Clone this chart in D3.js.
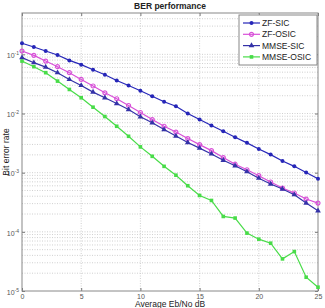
<!DOCTYPE html>
<html><head><meta charset="utf-8">
<script src="https://cdn.jsdelivr.net/npm/d3@7"></script>
<style>body{margin:0;background:#fff}svg{display:block}</style>
</head><body><svg id="c" width="325" height="308"></svg>
<script>
const snr = [0,1,2,3,4,5,6,7,8,9,10,11,12,13,14,15,16,17,18,19,20,21,22,23,24,25];
const zfSic = [0.154,0.133,0.114,0.0973,0.0791,0.0669,0.0550,0.0453,0.0362,0.0298,0.0243,0.0196,0.0158,0.0133,0.0100,0.00791,0.00626,0.00501,0.00397,0.00319,0.00252,0.00202,0.00158,0.00128,0.00101,0.00079];
const zfOsic = [0.1138,0.0962,0.0770,0.0619,0.0490,0.0377,0.0292,0.0224,0.01775,0.01367,0.0104,0.00791,0.00609,0.00486,0.00377,0.00298,0.00236,0.00180,0.00139,0.00112,0.00089,0.000696,0.000550,0.000453,0.000358,0.000306];
const mmseSic = [0.0879,0.0723,0.0609,0.0490,0.0377,0.0298,0.0230,0.01845,0.01477,0.01169,0.00879,0.00696,0.00536,0.00416,0.00323,0.00260,0.00207,0.00162,0.00131,0.00104,0.000807,0.000643,0.000529,0.000424,0.000306,0.000227];
const mmseOsic = [0.0770,0.0619,0.0490,0.0353,0.0255,0.01845,0.01279,0.0089,0.00609,0.00412,0.00273,0.00189,0.00128,0.000907,0.000602,0.000412,0.000339,0.000182,0.000171,0.0000951,0.0000752,0.0000643,0.0000349,0.0000464,0.0000171,0.0000116];
const seriesNames = ["ZF-SIC","ZF-OSIC","MMSE-SIC","MMSE-OSIC"];
const xTicks = [0,5,10,15,20,25];
const yTicks = [1e-5,1e-4,1e-3,1e-2,1e-1];
const titleText = "BER performance";
const xLabel = "Average Eb/No dB";
const yLabel = "Bit error rate";

const series = [
  {name: seriesNames[0], values: zfSic, color: "#2626b8", marker: "dot"},
  {name: seriesNames[1], values: zfOsic, color: "#d850d8", marker: "circle"},
  {name: seriesNames[2], values: mmseSic, color: "#3432a8", marker: "tri"},
  {name: seriesNames[3], values: mmseOsic, color: "#48dc48", marker: "square"}
];

const svg = d3.select("#c");
const L = 22, R = 318, T = 13, B = 291;
const x = d3.scaleLinear().domain([0,25]).range([L,R]);
const y = d3.scaleLog().domain([1e-5,0.5]).range([B,T]);

svg.append("rect").attr("width",325).attr("height",308).attr("fill","#fff");

// grid
const g = svg.append("g");
const minor = [];
for (let e=-5;e<0;e++) for (let k=1;k<10;k++){const v=k*Math.pow(10,e); if(v>1e-5 && v<0.5) minor.push(v);}
g.selectAll(".hg").data(minor).enter().append("line")
  .attr("x1",L).attr("x2",R).attr("y1",d=>y(d)).attr("y2",d=>y(d))
  .attr("stroke","#c4c4c4").attr("stroke-width",0.8).attr("stroke-dasharray","1,1.5");
g.selectAll(".vg").data(xTicks.slice(1,-1)).enter().append("line")
  .attr("y1",T).attr("y2",B).attr("x1",d=>x(d)).attr("x2",d=>x(d))
  .attr("stroke","#c4c4c4").attr("stroke-width",0.8).attr("stroke-dasharray","1,1.5");

// axes
const axB = svg.append("g").attr("transform",`translate(0,${B})`)
  .call(d3.axisBottom(x).tickValues(xTicks).tickSize(-3).tickPadding(3));
const axT = svg.append("g").attr("transform",`translate(0,${T})`)
  .call(d3.axisTop(x).tickValues(xTicks).tickSize(-3).tickFormat(""));
const axL = svg.append("g").attr("transform",`translate(${L},0)`)
  .call(d3.axisLeft(y).tickValues(yTicks).tickSize(-3).tickPadding(4).tickFormat(""));
const axR = svg.append("g").attr("transform",`translate(${R},0)`)
  .call(d3.axisRight(y).tickValues(yTicks).tickSize(-3).tickFormat(""));
[axB,axT,axL,axR].forEach(a=>{a.select(".domain").remove(); a.selectAll("line").attr("stroke","#777");});
axB.selectAll("text").attr("font-family","Arial, Liberation Sans, sans-serif").attr("font-size",7).attr("fill","#555");
axL.selectAll(".tick").each(function(d){
  const t = d3.select(this).append("text").attr("x",-3).attr("dy","0.32em")
    .attr("text-anchor","end").attr("font-family","Arial, Liberation Sans, sans-serif").attr("fill","#555");
  t.append("tspan").attr("font-size",7).text("10");
  t.append("tspan").attr("font-size",5).attr("dy","-0.6em").text(Math.round(Math.log10(d)));
});
svg.append("rect").attr("x",L).attr("y",T).attr("width",R-L).attr("height",B-T)
  .attr("fill","none").attr("stroke","#888").attr("stroke-width",1);

// lines
const line = d3.line().x((d,i)=>x(snr[i])).y(d=>y(d));
function drawMarker(sel, type, color){
  if(type==="dot"){
    sel.append("circle").attr("r",2).attr("fill",color);
  } else if(type==="circle"){
    sel.append("circle").attr("r",2).attr("fill","none").attr("stroke",color).attr("stroke-width",1.2);
  } else if(type==="tri"){
    sel.append("path").attr("d",d3.symbol().type(d3.symbolTriangle).size(14)).attr("fill",color);
  } else {
    sel.append("rect").attr("x",-1.8).attr("y",-1.8).attr("width",3.6).attr("height",3.6).attr("fill",color);
  }
}
series.forEach(s=>{
  svg.append("path").datum(s.values).attr("d",line).attr("fill","none")
    .attr("stroke",s.color).attr("stroke-width",1.2);
  svg.append("g").selectAll("g").data(s.values).enter().append("g")
    .attr("transform",(d,i)=>`translate(${x(snr[i])},${y(d)})`)
    .each(function(){drawMarker(d3.select(this), s.marker, s.color);});
});

// legend
const lg = svg.append("g");
lg.append("rect").attr("x",239).attr("y",15).attr("width",78).attr("height",50)
  .attr("fill","#fff").attr("stroke","#888").attr("stroke-width",1);
series.forEach((s,i)=>{
  const yy = 23 + i*11.3;
  lg.append("line").attr("x1",243).attr("x2",260).attr("y1",yy).attr("y2",yy)
    .attr("stroke",s.color).attr("stroke-width",1.2);
  const m = lg.append("g").attr("transform",`translate(251.5,${yy})`);
  drawMarker(m, s.marker, s.color);
  lg.append("text").attr("x",262).attr("y",yy).attr("dy","0.35em")
    .attr("font-family","Arial, Liberation Sans, sans-serif").attr("font-size",8.5).attr("fill","#222").text(s.name);
});

// title & labels
svg.append("text").attr("x",(L+R)/2).attr("y",9).attr("text-anchor","middle")
  .attr("font-family","Arial, Liberation Sans, sans-serif").attr("font-size",8.5).attr("font-weight","bold").attr("fill","#222").text(titleText);
svg.append("text").attr("x",(L+R)/2).attr("y",307).attr("text-anchor","middle")
  .attr("font-family","Arial, Liberation Sans, sans-serif").attr("font-size",8.5).attr("fill","#222").text(xLabel);
svg.append("text").attr("transform",`translate(9,${(T+B)/2}) rotate(-90)`).attr("text-anchor","middle")
  .attr("font-family","Arial, Liberation Sans, sans-serif").attr("font-size",8.5).attr("fill","#222").text(yLabel);
</script></body></html>
